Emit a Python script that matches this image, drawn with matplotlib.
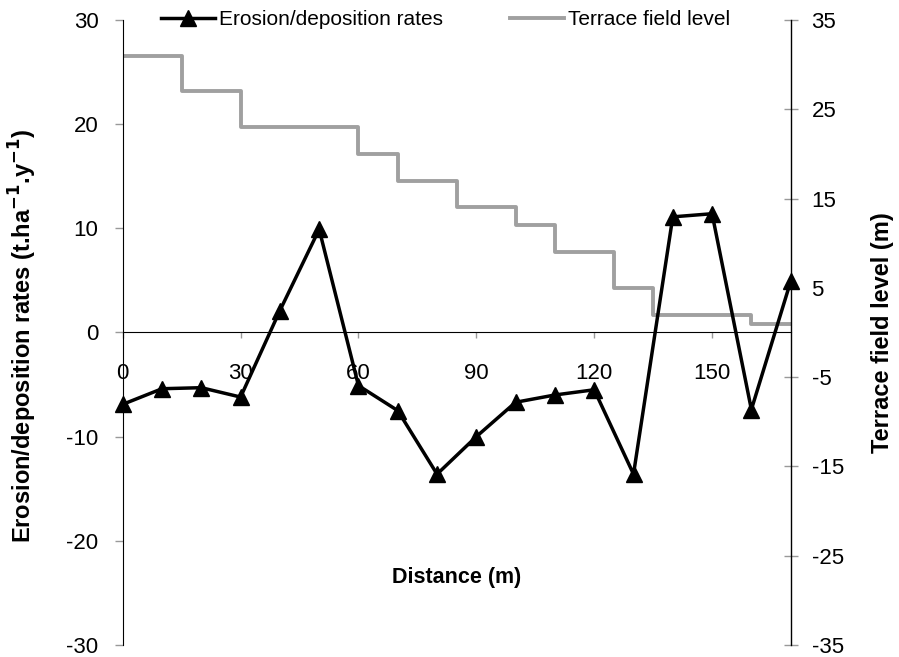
import numpy as np
import matplotlib.pyplot as plt
from matplotlib.lines import Line2D

plt.rcParams['font.family'] = ['Liberation Sans', 'DejaVu Sans']
plt.rcParams['axes.unicode_minus'] = False

# Erosion/deposition rates along the transect
distance = [0, 10, 20, 30, 40, 50, 60, 70, 80, 90, 100, 110, 120, 130, 140, 150, 160, 170]
erosion = [-6.9, -5.4, -5.3, -6.2, 2.1, 9.9, -5.1, -7.5, -13.6, -10.0,
           -6.7, -6.0, -5.5, -13.6, 11.1, 11.4, -7.4, 4.9]

# Terrace field level (step profile)
terrace_x = [0, 15, 30, 60, 70, 85, 100, 110, 125, 135, 160, 170]
terrace_y = [31, 27, 23, 20, 17, 14, 12, 9, 5, 2, 1, 1]

left_ticks = [-30, -20, -10, 0, 10, 20, 30]
right_ticks = [-35, -25, -15, -5, 5, 15, 25, 35]
x_ticks = [0, 30, 60, 90, 120, 150]

fig = plt.figure(figsize=(8.99, 6.57), dpi=100)
ax = fig.add_axes([0.1365, 0.0183, 0.743, 0.9513])
ax2 = ax.twinx()

# Terrace on the right axis, behind the erosion line
ax2.plot(terrace_x, terrace_y, drawstyle='steps-post', color='#a0a0a0', lw=2.8)
ax2.set_ylim(-35, 35)
ax2.set_yticks(right_ticks)
ax2.tick_params(axis='y', direction='inout', length=10, width=1, color='#999999',
                labelsize=16, pad=10)
for s in ['top', 'left', 'bottom']:
    ax2.spines[s].set_visible(False)
ax2.spines['right'].set_linewidth(1)
ax2.set_ylabel('Terrace field level (m)', fontsize=17, fontweight='bold', va='center')
ax2.yaxis.set_label_coords(1.138, 0.5)

ax.set_zorder(ax2.get_zorder() + 1)
ax.patch.set_visible(False)
ax.plot(distance, erosion, color='black', lw=2.5, marker='^', ms=11, clip_on=False)
ax.set_xlim(0, 170)
ax.set_ylim(-30, 30)
ax.set_yticks(left_ticks)
ax.set_xticks(x_ticks)
ax.spines['bottom'].set_position(('data', 0))
ax.spines['top'].set_visible(False)
ax.spines['right'].set_visible(False)
ax.tick_params(axis='y', direction='out', length=5.5, width=1, color='#999999',
               labelsize=16, pad=12)
ax.tick_params(axis='x', direction='out', length=4, width=1, color='#999999',
               labelsize=16, pad=18)
ax.set_ylabel('Erosion/deposition rates (t.ha$^{\\mathbf{-1}}$.y$^{\\mathbf{-1}}$)',
              fontsize=17, fontweight='bold', va='center')
ax.yaxis.set_label_coords(-0.149, 0.495)
ax.text(85, -23.5, 'Distance (m)', fontsize=15.5, fontweight='bold', ha='center', va='center')

handles = [Line2D([], [], color='black', lw=2.5, marker='^', ms=11),
           Line2D([], [], color='#a0a0a0', lw=2.8)]
fig.legend(handles, ['Erosion/deposition rates', 'Terrace field level'],
           loc='center', bbox_to_anchor=(0.4956, 0.9696), ncol=2, frameon=False,
           fontsize=15, handlelength=2.6, handletextpad=0.2, columnspacing=3.2,
           borderpad=0, borderaxespad=0)

fig.savefig('out.png', dpi=100)
